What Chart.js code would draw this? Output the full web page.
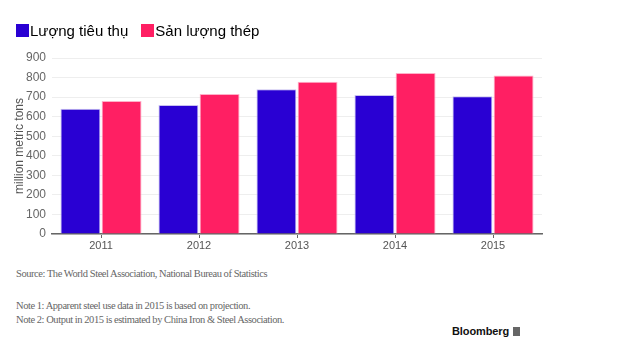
<!DOCTYPE html>
<html>
<head>
<meta charset="utf-8">
<script src="https://cdn.jsdelivr.net/npm/chart.js@4/dist/chart.umd.min.js"></script>
<style>
  body { margin: 0; background: #fff; width: 640px; height: 346px; overflow: hidden; position: relative; font-family: "Liberation Sans", Arial, sans-serif; }
  #wrap { position: absolute; left: 0; top: 1px; width: 640px; height: 260px; }
  .legend { position: absolute; top: 22px; left: 16px; font-size: 15px; color: #000; display: flex; align-items: center; }
  .legend span.box { display: inline-block; width: 13px; height: 13px; margin-right: 1px; }
  .legend .item { display: flex; align-items: center; margin-right: 13px; }
  .note { position: absolute; left: 16px; font-family: "Liberation Serif", "DejaVu Serif", serif; font-size: 10.5px; letter-spacing: -0.45px; color: #666; white-space: nowrap; }
  .logo { position: absolute; left: 452px; top: 325px; font-size: 11px; font-weight: bold; color: #111; letter-spacing: -0.1px; }
  .logo i { display: inline-block; width: 7px; height: 9px; background: #666; margin-left: 4px; vertical-align: -1px; }
</style>
</head>
<body>
<div id="wrap"><canvas id="myChart"></canvas></div>
<div class="legend" id="legend"></div>
<div class="note" style="top:268px">Source: The World Steel Association, National Bureau of Statistics</div>
<div class="note" style="top:300px">Note 1: Apparent steel use data in 2015 is based on projection.</div>
<div class="note" style="top:314px">Note 2: Output in 2015 is estimated by China Iron &amp; Steel Association.</div>
<div class="logo">Bloomberg<i></i></div>
<script>
const years = ["2011", "2012", "2013", "2014", "2015"];
const consumption = [640, 660, 740, 711, 705];
const output = [680, 716, 779, 823, 811];
const seriesNames = ["Lượng tiêu thụ", "Sản lượng thép"];
const yTicks = [0, 100, 200, 300, 400, 500, 600, 700, 800, 900];

const blue = "#2900D3";
const pink = "#FF1F63";

// legend in html so the spacing matches
const legend = document.querySelector("#legend");
[blue, pink].forEach((c, i) => {
  legend.innerHTML += `<div class="item"><span class="box" style="background:${c}"></span>${seriesNames[i]}</div>`;
});

const graph = document.querySelector("#myChart");
new Chart(graph, {
  type: "bar",
  data: {
    labels: years,
    datasets: [
      {
        label: seriesNames[0],
        data: consumption,
        backgroundColor: blue,
        borderColor: "#c8c0f0",
        borderWidth: 1,
        categoryPercentage: 0.84,
        barPercentage: 0.97,
      },
      {
        label: seriesNames[1],
        data: output,
        backgroundColor: pink,
        borderColor: "#ffb0c8",
        borderWidth: 1,
        categoryPercentage: 0.84,
        barPercentage: 0.97,
      },
    ],
  },
  options: {
    responsive: true,
    maintainAspectRatio: false,
    animation: false,
    layout: { padding: { top: 57, right: 98, left: 0, bottom: 0 } },
    plugins: {
      legend: { display: false },
      tooltip: { enabled: false },
    },
    scales: {
      x: {
        grid: { drawOnChartArea: false, offset: false, tickLength: 4, color: "#666" },
        border: { color: "#666", width: 1.5 },
        ticks: { color: "#555", font: { size: 11, family: "Liberation Sans" }, padding: 1 },
        afterFit: (scale) => { scale.height = 27; },
      },
      y: {
        min: 0,
        max: 900,
        afterBuildTicks: (scale) => { scale.ticks = yTicks.map((v) => ({ value: v })); },
        grid: { color: "#eeeeee", drawTicks: false },
        border: { display: false },
        ticks: { color: "#666", font: { size: 12, family: "Liberation Sans" }, padding: 6 },
        title: {
          display: true,
          text: "million metric tons",
          color: "#555",
          font: { size: 12, family: "Liberation Sans" },
          padding: { top: 12, bottom: 0 },
        },
        afterFit: (scale) => { scale.width = 52; },
      },
    },
  },
});
</script>
</body>
</html>
